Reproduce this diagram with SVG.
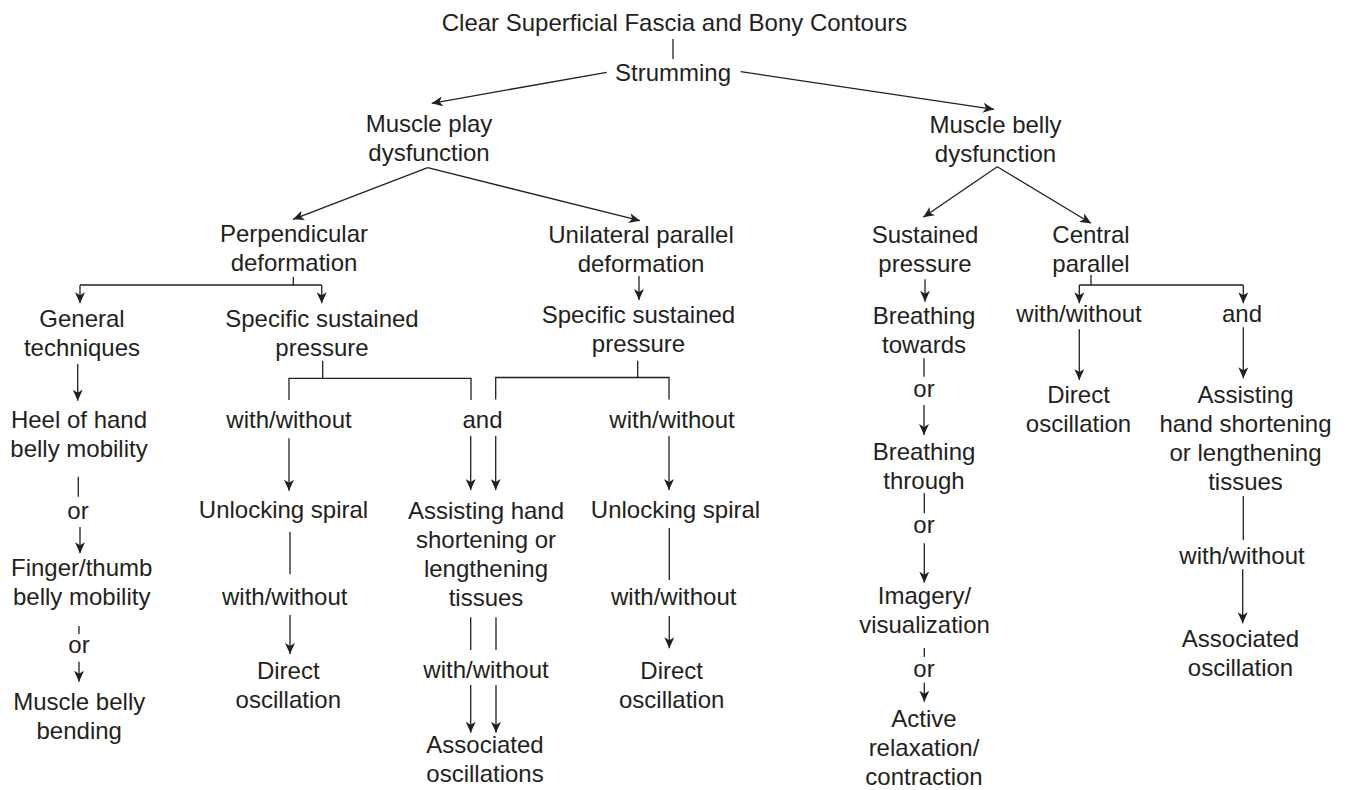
<svg xmlns="http://www.w3.org/2000/svg" width="1347" height="790" viewBox="0 0 1347 790">
<style>
text{font-family:"Liberation Sans",Arial,sans-serif;font-size:24px;fill:#231f20;text-anchor:middle}
.c line,.c path{stroke:#231f20;stroke-width:1.3;fill:none}
.a{marker-end:url(#ah)}
</style>
<defs>
<marker id="ah" markerUnits="userSpaceOnUse" markerWidth="12" markerHeight="10" refX="11" refY="5" orient="auto">
<path d="M0,0 L11,5 L0,10 L3,5 Z" fill="#231f20"/>
</marker>
</defs>
<rect width="1347" height="790" fill="#fff"/>
<g id="connectors" class="c">
<line x1="673" y1="39" x2="673" y2="59"/>
<line class="a" x1="606.7" y1="72.3" x2="431.7" y2="103.3"/>
<line class="a" x1="740.7" y1="71.7" x2="994" y2="109.3"/>
<line class="a" x1="427.7" y1="167.7" x2="293" y2="219.3"/>
<line class="a" x1="427.7" y1="167.7" x2="640" y2="220.7"/>
<line class="a" x1="997.3" y1="166.7" x2="923.3" y2="217.3"/>
<line class="a" x1="997.3" y1="166.7" x2="1091" y2="223.3"/>
<path d="M293.3,277 V285 M80,285 H321.7"/>
<line class="a" x1="80" y1="285" x2="80" y2="303.3"/>
<line class="a" x1="321.7" y1="285" x2="321.7" y2="303.3"/>
<line class="a" x1="639" y1="276" x2="639" y2="300"/>
<line class="a" x1="925" y1="279.3" x2="925" y2="301.7"/>
<path d="M1091,275 V285 M1079.3,285 H1243.3"/>
<line class="a" x1="1079.3" y1="285" x2="1079.3" y2="303.3"/>
<line class="a" x1="1243.3" y1="285" x2="1243.3" y2="303.3"/>
<line class="a" x1="77.7" y1="364" x2="77.7" y2="400.7"/>
<path d="M322.7,360.7 V378.3 M289,400 V378.3 H471 V400"/>
<path d="M637.7,360.7 V377.5 M495.7,399.5 V377.5 H669 V399.5"/>
<line x1="924" y1="358.3" x2="924" y2="376.7"/>
<line class="a" x1="1079.3" y1="329.3" x2="1079.3" y2="380"/>
<line class="a" x1="1243.3" y1="327.3" x2="1243.3" y2="378.3"/>
<line class="a" x1="289" y1="438.3" x2="289" y2="490.7"/>
<line class="a" x1="470.7" y1="436" x2="470.7" y2="490"/>
<line class="a" x1="495.7" y1="436" x2="495.7" y2="490"/>
<line class="a" x1="669" y1="436" x2="669" y2="490"/>
<line class="a" x1="924" y1="405" x2="924" y2="435"/>
<line x1="78.3" y1="476.7" x2="78.3" y2="496.7"/>
<line class="a" x1="80" y1="527" x2="80" y2="553.3"/>
<line x1="290" y1="532" x2="290" y2="574.3"/>
<line x1="1243.3" y1="496" x2="1243.3" y2="540"/>
<line x1="924.3" y1="493.3" x2="924.3" y2="513.3"/>
<line x1="669.3" y1="528" x2="669.3" y2="580"/>
<line class="a" x1="924.3" y1="543.3" x2="924.3" y2="582.7"/>
<line class="a" x1="1242.7" y1="569.3" x2="1242.7" y2="623.3"/>
<line x1="79" y1="626" x2="79" y2="634"/>
<line class="a" x1="290" y1="615" x2="290" y2="654"/>
<line class="a" x1="669.3" y1="616" x2="669.3" y2="648.3"/>
<line x1="470.7" y1="617.3" x2="470.7" y2="650"/>
<line x1="496" y1="617.3" x2="496" y2="650"/>
<line x1="924.3" y1="648" x2="924.3" y2="657"/>
<line class="a" x1="79" y1="661.7" x2="79" y2="681.7"/>
<line class="a" x1="470.7" y1="685" x2="470.7" y2="732.7"/>
<line class="a" x1="496" y1="685" x2="496" y2="732.7"/>
<line class="a" x1="924.3" y1="682.7" x2="924.3" y2="701.7"/>
</g>
<g id="n-title"><text x="674.5" y="31">Clear Superficial Fascia and Bony Contours</text></g>
<g id="n-strumming"><text x="673" y="81">Strumming</text></g>
<g id="n-muscle-play"><text x="429" y="132">Muscle play</text><text x="429" y="161">dysfunction</text></g>
<g id="n-muscle-belly"><text x="995.5" y="133">Muscle belly</text><text x="995.5" y="162">dysfunction</text></g>
<g id="n-perpendicular"><text x="294" y="242">Perpendicular</text><text x="294" y="271">deformation</text></g>
<g id="n-unilateral"><text x="641" y="243">Unilateral parallel</text><text x="641" y="272">deformation</text></g>
<g id="n-sustained"><text x="925" y="243">Sustained</text><text x="925" y="272">pressure</text></g>
<g id="n-central"><text x="1091" y="243">Central</text><text x="1091" y="272">parallel</text></g>
<g id="n-general"><text x="82" y="327">General</text><text x="82" y="356">techniques</text></g>
<g id="n-ssp1"><text x="322" y="327">Specific sustained</text><text x="322" y="356">pressure</text></g>
<g id="n-ssp2"><text x="638.5" y="323">Specific sustained</text><text x="638.5" y="352">pressure</text></g>
<g id="n-breathing-towards"><text x="924" y="324">Breathing</text><text x="924" y="353">towards</text></g>
<g id="n-ww-central"><text x="1079" y="322">with/without</text></g>
<g id="n-and-central"><text x="1242" y="322">and</text></g>
<g id="n-heel"><text x="79" y="428">Heel of hand</text><text x="79" y="457">belly mobility</text></g>
<g id="n-ww1"><text x="289" y="428">with/without</text></g>
<g id="n-and1"><text x="482.5" y="428">and</text></g>
<g id="n-ww2"><text x="672" y="428">with/without</text></g>
<g id="n-or-b1"><text x="924" y="397">or</text></g>
<g id="n-direct-central"><text x="1078.5" y="403">Direct</text><text x="1078.5" y="432">oscillation</text></g>
<g id="n-assist-central"><text x="1245.5" y="403">Assisting</text><text x="1245.5" y="432">hand shortening</text><text x="1245.5" y="461">or lengthening</text><text x="1245.5" y="490">tissues</text></g>
<g id="n-or-l1"><text x="78" y="519">or</text></g>
<g id="n-unlock1"><text x="283.5" y="518">Unlocking spiral</text></g>
<g id="n-assist1"><text x="486" y="519">Assisting hand</text><text x="486" y="548">shortening or</text><text x="486" y="577">lengthening</text><text x="486" y="606">tissues</text></g>
<g id="n-unlock2"><text x="675.5" y="518">Unlocking spiral</text></g>
<g id="n-breathing-through"><text x="924" y="460">Breathing</text><text x="924" y="489">through</text></g>
<g id="n-or-b2"><text x="924" y="533">or</text></g>
<g id="n-finger"><text x="81.7" y="576">Finger/thumb</text><text x="81.7" y="605">belly mobility</text></g>
<g id="n-ww3"><text x="284.7" y="605">with/without</text></g>
<g id="n-ww4"><text x="486" y="678">with/without</text></g>
<g id="n-ww5"><text x="673.7" y="605">with/without</text></g>
<g id="n-imagery"><text x="924.5" y="604">Imagery/</text><text x="924.5" y="633">visualization</text></g>
<g id="n-ww-central2"><text x="1242" y="564">with/without</text></g>
<g id="n-or-l2"><text x="79" y="653">or</text></g>
<g id="n-direct1"><text x="288.3" y="679">Direct</text><text x="288.3" y="708">oscillation</text></g>
<g id="n-direct2"><text x="671.7" y="679">Direct</text><text x="671.7" y="708">oscillation</text></g>
<g id="n-or-b3"><text x="924" y="677">or</text></g>
<g id="n-assoc-central"><text x="1240.5" y="647">Associated</text><text x="1240.5" y="676">oscillation</text></g>
<g id="n-muscle-belly-bending"><text x="79.2" y="710">Muscle belly</text><text x="79.2" y="739">bending</text></g>
<g id="n-active"><text x="924" y="727">Active</text><text x="924" y="756">relaxation/</text><text x="924" y="785">contraction</text></g>
<g id="n-assoc1"><text x="485" y="753">Associated</text><text x="485" y="782">oscillations</text></g>
</svg>
